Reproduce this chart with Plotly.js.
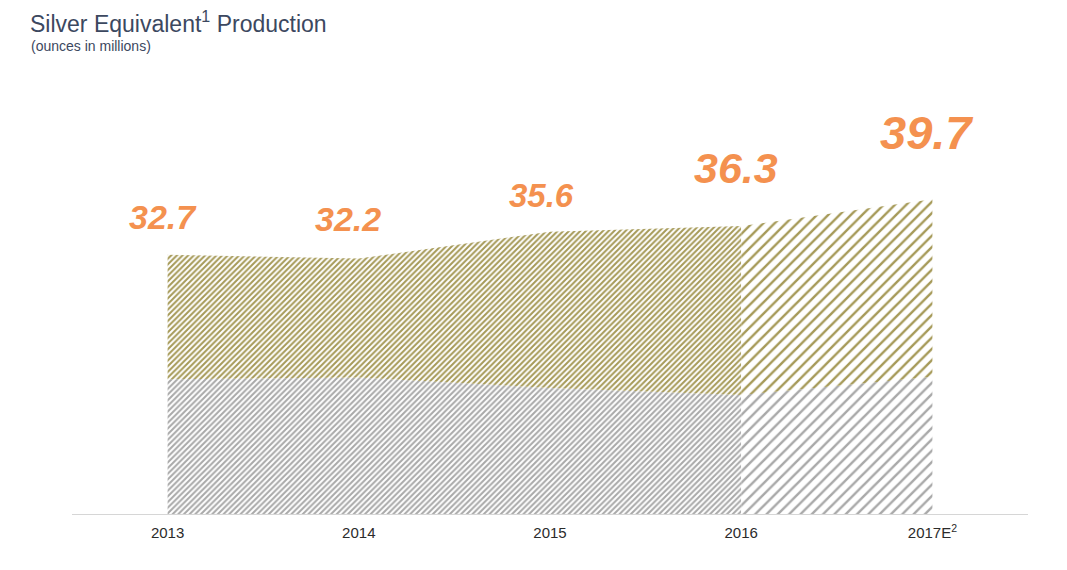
<!DOCTYPE html>
<html>
<head>
<meta charset="utf-8">
<script src="https://cdn.plot.ly/plotly-3.0.1.min.js"></script>
<style>
  html, body { margin: 0; padding: 0; background: #fff; }
  #plot { width: 1067px; height: 570px; }
</style>
</head>
<body>
<div id="plot"></div>
<script>
// silver equivalent production, ounces in millions
var years = ["2013", "2014", "2015", "2016", "2017E"];
var tickLabels = ["2013", "2014", "2015", "2016", "2017E<sup>2</sup>"];
var lowerPart = [17.0, 17.2, 15.9, 15.0, 17.3];   // grey layer
var upperPart = [15.7, 15.0, 19.7, 21.3, 22.4];   // gold layer
var totals = [32.7, 32.2, 35.6, 36.3, 39.7];

var gold = "#a69a58";
var grey = "#a9a9a9";
var orange = "#f4914f";

function hatch(color, size, solid) {
  return {shape: "/", fgcolor: color, bgcolor: "#ffffff", size: size, solidity: solid};
}

// actual years (fine hatch) and the estimate segment (coarse hatch)
var histX = years.slice(0, 4);
var estX = years.slice(3);

var data = [
  {
    x: histX, y: lowerPart.slice(0, 4), stackgroup: "hist",
    mode: "none", fillcolor: "rgba(0,0,0,0)", fillpattern: hatch(grey, 4, 0.5),
    hoverinfo: "skip"
  },
  {
    x: histX, y: upperPart.slice(0, 4), stackgroup: "hist",
    mode: "none", fillcolor: "rgba(0,0,0,0)", fillpattern: hatch(gold, 4, 0.5),
    hoverinfo: "skip"
  },
  {
    x: estX, y: lowerPart.slice(3), stackgroup: "est",
    mode: "none", fillcolor: "rgba(0,0,0,0)", fillpattern: hatch(grey, 8, 0.3),
    hoverinfo: "skip"
  },
  {
    x: estX, y: upperPart.slice(3), stackgroup: "est",
    mode: "none", fillcolor: "rgba(0,0,0,0)", fillpattern: hatch(gold, 8, 0.3),
    hoverinfo: "skip"
  }
];

// label look per year: size and nudge
var labelSize = [34, 34, 33, 43, 47];
var labelDx = [-5, -11, -9, -5, -6];
var labelGap = [17, 19, 16, 32, 38];

// x is given as the category index, year names like "2013" would be read as numbers
var annotations = totals.map(function (v, i) {
  return {
    x: i, y: v, xref: "x", yref: "y",
    text: "<b><i>" + v.toFixed(1) + "</i></b>",
    showarrow: false, xanchor: "center", yanchor: "bottom",
    xshift: labelDx[i], yshift: labelGap[i],
    font: {family: "Liberation Sans, Arial, sans-serif", size: labelSize[i], color: orange}
  };
});

annotations.push({
  text: "(ounces in millions)", xref: "paper", yref: "paper",
  x: -0.0455, y: 1.13, xanchor: "left", yanchor: "middle", showarrow: false,
  font: {family: "Liberation Sans, Arial, sans-serif", size: 14, color: "#3c4860"}
});

var layout = {
  width: 1067,
  height: 570,
  margin: {t: 100, r: 39, b: 56, l: 72},
  paper_bgcolor: "#ffffff",
  plot_bgcolor: "#ffffff",
  showlegend: false,
  title: {
    text: "Silver Equivalent<sup>1</sup> Production",
    x: 30 / 1067, xanchor: "left", xref: "container",
    y: 1 - 24 / 570, yanchor: "middle", yref: "container",
    font: {family: "Liberation Sans, Arial, sans-serif", size: 23, color: "#3c4860"}
  },
  xaxis: {
    type: "category",
    range: [-0.5, 4.5],
    tickvals: years,
    ticktext: tickLabels,
    showgrid: false,
    zeroline: false,
    showline: true,
    linecolor: "#d6d6d6",
    linewidth: 1,
    ticks: "",
    ticklabelstandoff: 5,
    tickfont: {family: "Liberation Sans Narrow, Liberation Sans, sans-serif", size: 15, color: "#2b2b2b"}
  },
  yaxis: {
    range: [0, 52.2],
    visible: false,
    showgrid: false,
    zeroline: false
  },
  annotations: annotations
};

Plotly.newPlot("plot", data, layout, {displayModeBar: false, staticPlot: true});
</script>
</body>
</html>
